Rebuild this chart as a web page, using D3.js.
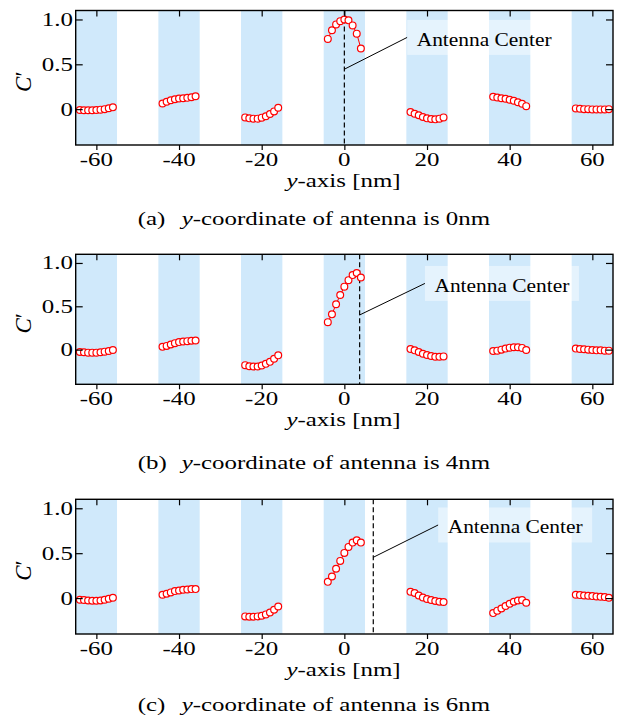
<!DOCTYPE html>
<html><head><meta charset="utf-8">
<script src="https://cdn.jsdelivr.net/npm/d3@7"></script>
<style>body{margin:0;background:#fff}svg{display:block}</style>
</head><body>
<script>
// ---------- data ----------
const xTicks = [-60, -40, -20, 0, 20, 40, 60];
const xTickLabels = ["-60", "-40", "-20", "0", "20", "40", "60"];
const yTicks = [0, 0.5, 1.0];
const yTickLabels = ["0", "0.5", "1.0"];
const bands = [[-65, -55], [-45, -35], [-25, -15], [-5, 5], [15, 25], [35, 45], [55, 65]];
const sampleX = [
  [-64, -63, -62, -61, -60, -59, -58, -57, -56],
  [-44, -43, -42, -41, -40, -39, -38, -37, -36],
  [-24, -23, -22, -21, -20, -19, -18, -17, -16],
  [-4, -3, -2, -1, 0, 1, 2, 3, 4],
  [16, 17, 18, 19, 20, 21, 22, 23, 24],
  [36, 37, 38, 39, 40, 41, 42, 43, 44],
  [56, 57, 58, 59, 60, 61, 62, 63, 64]
];
const valuesA = [
  [-0.01, -0.012, -0.012, -0.012, -0.01, -0.006, 0.0, 0.01, 0.02],
  [0.063, 0.082, 0.099, 0.11, 0.118, 0.121, 0.126, 0.132, 0.143],
  [-0.092, -0.103, -0.106, -0.106, -0.095, -0.08, -0.055, -0.025, 0.015],
  [0.783, 0.879, 0.945, 0.981, 1.0, 0.99, 0.934, 0.842, 0.677],
  [-0.033, -0.051, -0.069, -0.088, -0.103, -0.11, -0.114, -0.106, -0.092],
  [0.137, 0.129, 0.121, 0.115, 0.104, 0.093, 0.077, 0.06, 0.033],
  [0.008, 0.004, 0.0, 0.0, -0.003, -0.003, -0.003, -0.003, 0.0]
];
const valuesB = [
  [-0.027, -0.03, -0.035, -0.035, -0.035, -0.03, -0.023, -0.015, -0.004],
  [0.032, 0.043, 0.059, 0.075, 0.087, 0.094, 0.098, 0.102, 0.106],
  [-0.179, -0.191, -0.195, -0.195, -0.183, -0.164, -0.141, -0.105, -0.066],
  [0.317, 0.407, 0.524, 0.63, 0.727, 0.802, 0.86, 0.884, 0.832],
  [0.008, -0.008, -0.027, -0.047, -0.062, -0.074, -0.082, -0.082, -0.078],
  [-0.015, -0.012, 0.0, 0.012, 0.023, 0.028, 0.028, 0.02, -0.004],
  [0.012, 0.008, 0.004, 0.0, -0.004, -0.008, -0.008, -0.012, -0.012]
];
const valuesC = [
  [-0.019, -0.022, -0.027, -0.03, -0.03, -0.027, -0.019, -0.008, 0.003],
  [0.037, 0.048, 0.063, 0.078, 0.085, 0.092, 0.096, 0.1, 0.1],
  [-0.204, -0.208, -0.208, -0.204, -0.197, -0.182, -0.16, -0.13, -0.093],
  [0.181, 0.24, 0.326, 0.414, 0.503, 0.57, 0.618, 0.644, 0.618],
  [0.07, 0.056, 0.029, 0.007, -0.011, -0.022, -0.033, -0.041, -0.044],
  [-0.167, -0.14, -0.116, -0.089, -0.063, -0.041, -0.027, -0.022, -0.052],
  [0.037, 0.033, 0.029, 0.026, 0.022, 0.018, 0.015, 0.011, 0.003]
];
const antennaPos = [0, 3.7, 7.0];
const leaderStartC = [0.445, 0.40, 0.454];
const labelBoxX = [15.2, 19.5, 22.7];
const labelBoxC = [0.80, 0.764, 0.814];
const captionLetters = ["(a)", "(b)", "(c)"];
const captionValues = ["0nm", "4nm", "6nm"];

// ---------- layout ----------
const W = 619, H = 722;
const FONT = "Liberation Serif, Times New Roman, Times, serif";
const FS = 19.5;
const panels = [
  {top: 10.5, bottom: 145, values: valuesA},
  {top: 254.3, bottom: 384.3, values: valuesB},
  {top: 499.3, bottom: 634, values: valuesC}
];
const captionBase = [224.5, 468.5, 711];

const svg = d3.select("body").append("svg").attr("width", W).attr("height", H);
const x = d3.scaleLinear().domain([-65, 65]).range([75.7, 613]);

function natural(str) {
  const t = svg.append("text").attr("font-family", FONT).attr("font-size", FS).text(str);
  const w = t.node().getComputedTextLength();
  t.remove();
  return w;
}
const SX = 310 / natural("y-coordinate of antenna is 0nm");
const SXlab = 135 / natural("Antenna Center");

function stext(g, px, py, anchor, sx) {
  return g.append("text")
    .attr("transform", `translate(${px},${py}) scale(${sx || SX},1)`)
    .attr("text-anchor", anchor)
    .attr("font-family", FONT)
    .attr("font-size", FS)
    .attr("fill", "#000");
}

panels.forEach((p, pi) => {
  const y = d3.scaleLinear().domain([-0.4, 1.1]).range([p.bottom, p.top]);
  const g = svg.append("g");
  const [x0, x1] = x.range();

  g.selectAll("rect.band").data(bands).join("rect")
    .attr("x", d => x(d[0])).attr("width", d => x(d[1]) - x(d[0]))
    .attr("y", p.top).attr("height", p.bottom - p.top)
    .attr("fill", "#d0e9fb");

  const ax = x(antennaPos[pi]);
  g.append("line").attr("x1", ax).attr("x2", ax).attr("y1", p.top).attr("y2", p.bottom)
    .attr("stroke", "#000").attr("stroke-width", 1.2).attr("stroke-dasharray", "5,3");

  const bx = x(labelBoxX[pi]), by = y(labelBoxC[pi]);
  g.append("line").attr("x1", ax).attr("y1", y(leaderStartC[pi])).attr("x2", bx).attr("y2", by)
    .attr("stroke", "#000").attr("stroke-width", 1);
  g.append("rect").attr("x", bx).attr("y", by - 17.5).attr("width", 154).attr("height", 35)
    .attr("fill", "#fff").attr("fill-opacity", 0.45);
  stext(g, bx + 9.5, by + 8.3, "start", SXlab).text("Antenna Center");

  const line = d3.line().x(d => x(d[0])).y(d => y(d[1]));
  p.values.forEach((vals, gi) => {
    const pts = vals.map((v, i) => [sampleX[gi][i], v]);
    g.append("path").attr("d", line(pts)).attr("fill", "none")
      .attr("stroke", "#ff0000").attr("stroke-width", 1);
    g.selectAll(null).data(pts).join("circle")
      .attr("cx", d => x(d[0])).attr("cy", d => y(d[1])).attr("r", 3.4)
      .attr("fill", "#fff").attr("stroke", "#ff0000").attr("stroke-width", 1.2);
  });

  g.append("rect").attr("x", x0).attr("y", p.top).attr("width", x1 - x0).attr("height", p.bottom - p.top)
    .attr("fill", "none").attr("stroke", "#000").attr("stroke-width", 1.4);

  g.append("g").attr("transform", `translate(0,${p.bottom})`)
    .call(d3.axisBottom(x).tickValues(xTicks).tickSize(5).tickFormat(""))
    .call(a => a.select(".domain").remove());
  g.append("g").attr("transform", `translate(0,${p.top})`)
    .call(d3.axisTop(x).tickValues(xTicks).tickSize(-6).tickFormat(""))
    .call(a => a.select(".domain").remove());
  g.append("g").attr("transform", `translate(${x0},0)`)
    .call(d3.axisLeft(y).tickValues(yTicks).tickSize(-7).tickFormat(""))
    .call(a => a.select(".domain").remove());
  g.append("g").attr("transform", `translate(${x1},0)`)
    .call(d3.axisRight(y).tickValues(yTicks).tickSize(-7).tickFormat(""))
    .call(a => a.select(".domain").remove());
  g.selectAll(".tick line").attr("stroke", "#000").attr("stroke-width", 1.2);

  xTicks.forEach((t, i) => stext(g, x(t), p.bottom + 20.5, "middle").text(xTickLabels[i]));
  yTicks.forEach((t, i) => stext(g, 73, y(t) + 6.5, "end").text(yTickLabels[i]));

  const xl = stext(g, 343.5, p.bottom + 41.5, "middle");
  xl.append("tspan").attr("font-style", "italic").text("y");
  xl.append("tspan").text("-axis [nm]");
  const yl = g.append("text")
    .attr("transform", `translate(31,${(p.top + p.bottom) / 2 + 4}) rotate(-90)`)
    .attr("text-anchor", "middle").attr("font-family", FONT).attr("font-size", 23);
  yl.append("tspan").attr("font-style", "italic").text("C");
  yl.append("tspan").text("′");

  stext(svg, 137.7, captionBase[pi], "start").text(captionLetters[pi]);
  const cap = stext(svg, 181.7, captionBase[pi], "start");
  cap.append("tspan").attr("font-style", "italic").text("y");
  cap.append("tspan").text("-coordinate of antenna is " + captionValues[pi]);
});
</script>
</body></html>
